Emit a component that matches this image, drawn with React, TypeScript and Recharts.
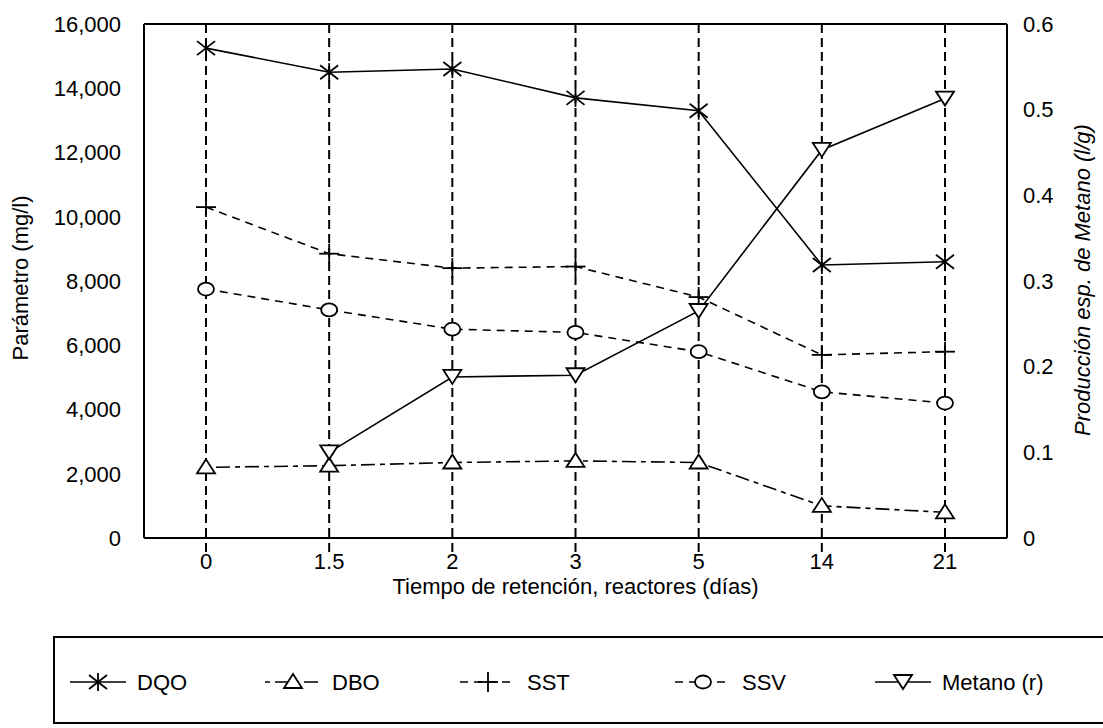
import {
  LineChart,
  Line,
  XAxis,
  YAxis,
  CartesianGrid,
  ReferenceLine,
  Label,
} from "recharts";

const categories = ["0", "1.5", "2", "3", "5", "14", "21"];
const dqo = [15250, 14500, 14600, 13700, 13300, 8500, 8600];
const dbo = [2200, 2250, 2350, 2400, 2350, 1000, 800];
const sst = [10300, 8850, 8400, 8450, 7500, 5700, 5800];
const ssv = [7750, 7100, 6500, 6400, 5800, 4550, 4200];
const metano = [null, 0.1, 0.188, 0.19, 0.265, 0.453, 0.513];

const leftTicks = [0, 2000, 4000, 6000, 8000, 10000, 12000, 14000, 16000];
const rightTicks = [0, 0.1, 0.2, 0.3, 0.4, 0.5, 0.6];

const chartData = categories.map((t, i) => ({
  t,
  dqo: dqo[i],
  dbo: dbo[i],
  sst: sst[i],
  ssv: ssv[i],
  metano: metano[i],
}));

const FONT = "'Liberation Sans', Arial, sans-serif";
const dashDot = "5 5 14 5";
const dashed = "8 6";

function drawMarker(kind: string, cx: number, cy: number, key?: string) {
  const s = { stroke: "#000", strokeWidth: 1.8, fill: "#fff" };
  if (kind === "x") {
    return (
      <g key={key} {...s}>
        <line x1={cx - 9} y1={cy - 7} x2={cx + 9} y2={cy + 7} />
        <line x1={cx - 9} y1={cy + 7} x2={cx + 9} y2={cy - 7} />
        <line x1={cx} y1={cy - 9} x2={cx} y2={cy + 9} />
      </g>
    );
  }
  if (kind === "tri") {
    return <polygon key={key} {...s} points={`${cx},${cy - 8} ${cx - 9},${cy + 6} ${cx + 9},${cy + 6}`} />;
  }
  if (kind === "plus") {
    return (
      <g key={key} {...s}>
        <line x1={cx - 10} y1={cy} x2={cx + 10} y2={cy} />
        <line x1={cx} y1={cy - 10} x2={cx} y2={cy + 10} />
      </g>
    );
  }
  if (kind === "circ") {
    return <ellipse key={key} {...s} cx={cx} cy={cy} rx={8} ry={6.5} />;
  }
  return <polygon key={key} {...s} points={`${cx - 9},${cy - 7} ${cx + 9},${cy - 7} ${cx},${cy + 7}`} />;
}

const dotOf = (kind: string) => (props: any) => {
  const { cx, cy, index, value } = props;
  if (cx == null || cy == null || value == null) return <g key={`e-${kind}-${index}`} />;
  return drawMarker(kind, cx, cy, `${kind}-${index}`);
};

const legendItems = [
  { name: "DQO", kind: "x", dash: undefined as string | undefined, x: 70 },
  { name: "DBO", kind: "tri", dash: dashDot, x: 265 },
  { name: "SST", kind: "plus", dash: dashed, x: 460 },
  { name: "SSV", kind: "circ", dash: dashed, x: 675 },
  { name: "Metano (r)", kind: "inv", dash: undefined, x: 875 },
];

function ChartLegend() {
  return (
    <svg
      width={1103}
      height={728}
      style={{ position: "absolute", left: 0, top: 0, pointerEvents: "none" }}
    >
      <rect x={54} y={637} width={1060} height={86} fill="none" stroke="#000" strokeWidth={2} />
      {legendItems.map((it) => (
        <g key={it.name}>
          <line
            x1={it.x}
            y1={682}
            x2={it.x + 56}
            y2={682}
            stroke="#000"
            strokeWidth={1.5}
            strokeDasharray={it.dash}
          />
          {drawMarker(it.kind, it.x + 28, 682)}
          <text x={it.x + 67} y={690} fontSize={22} fontFamily={FONT} fill="#000">
            {it.name}
          </text>
        </g>
      ))}
    </svg>
  );
}

export default function App() {
  return (
    <div style={{ position: "absolute", left: 0, top: 0, width: 1103, height: 728, background: "#fff" }}>
      <LineChart
        width={1103}
        height={728}
        data={chartData}
        margin={{ top: 24, right: 0, bottom: 130, left: 0 }}
      >
        <CartesianGrid
          horizontal={false}
          stroke="#000"
          strokeWidth={2}
          strokeDasharray="9 5"
        />
        <XAxis
          dataKey="t"
          height={60}
          padding={{ left: 62, right: 62 }}
          axisLine={{ stroke: "#000", strokeWidth: 2 }}
          tickLine={{ stroke: "#000", strokeWidth: 2, strokeDasharray: "9 5" }}
          tickSize={14}
          tickMargin={1}
          tick={{ fontSize: 22, fill: "#000", fontFamily: FONT }}
        >
          <Label
            content={({ viewBox }: any) => (
              <text
                x={viewBox.x + viewBox.width / 2}
                y={594}
                textAnchor="middle"
                fontSize={22}
                fontFamily={FONT}
                fill="#000"
              >
                Tiempo de retención, reactores (días)
              </text>
            )}
          />
        </XAxis>
        <YAxis
          yAxisId="left"
          width={144}
          domain={[0, 16000]}
          ticks={leftTicks}
          interval={0}
          axisLine={{ stroke: "#000", strokeWidth: 2 }}
          tickLine={false}
          tickSize={8}
          tickMargin={15}
          tickFormatter={(v: number) => v.toLocaleString("en-US")}
          tick={{ fontSize: 22, fill: "#000", fontFamily: FONT }}
        >
          <Label
            content={() => (
              <text
                x={28}
                y={278}
                transform="rotate(-90, 28, 278)"
                textAnchor="middle"
                fontSize={22}
                fontFamily={FONT}
                fill="#000"
              >
                Parámetro (mg/l)
              </text>
            )}
          />
        </YAxis>
        <YAxis
          yAxisId="right"
          orientation="right"
          width={96}
          domain={[0, 0.6]}
          ticks={rightTicks}
          interval={0}
          axisLine={{ stroke: "#000", strokeWidth: 2 }}
          tickLine={false}
          tickSize={8}
          tickMargin={8}
          tickFormatter={(v: number) => (v === 0 ? "0" : v.toFixed(1))}
          tick={{ fontSize: 22, fill: "#000", fontFamily: FONT }}
        >
          <Label
            content={() => (
              <text
                x={1090}
                y={280}
                transform="rotate(-90, 1090, 280)"
                textAnchor="middle"
                fontSize={22}
                fontStyle="italic"
                fontFamily={FONT}
                fill="#000"
              >
                Producción esp. de Metano (l/g)
              </text>
            )}
          />
        </YAxis>
        <ReferenceLine yAxisId="left" y={16000} stroke="#000" strokeWidth={2} />

        <Line yAxisId="left" type="linear" dataKey="dqo" stroke="#000" strokeWidth={1.6} dot={dotOf("x")} isAnimationActive={false} />
        <Line yAxisId="left" type="linear" dataKey="dbo" stroke="#000" strokeWidth={1.6} strokeDasharray={dashDot} dot={dotOf("tri")} isAnimationActive={false} />
        <Line yAxisId="left" type="linear" dataKey="sst" stroke="#000" strokeWidth={1.6} strokeDasharray={dashed} dot={dotOf("plus")} isAnimationActive={false} />
        <Line yAxisId="left" type="linear" dataKey="ssv" stroke="#000" strokeWidth={1.6} strokeDasharray={dashed} dot={dotOf("circ")} isAnimationActive={false} />
        <Line yAxisId="right" type="linear" dataKey="metano" stroke="#000" strokeWidth={1.6} dot={dotOf("inv")} isAnimationActive={false} />
      </LineChart>
      <ChartLegend />
    </div>
  );
}
